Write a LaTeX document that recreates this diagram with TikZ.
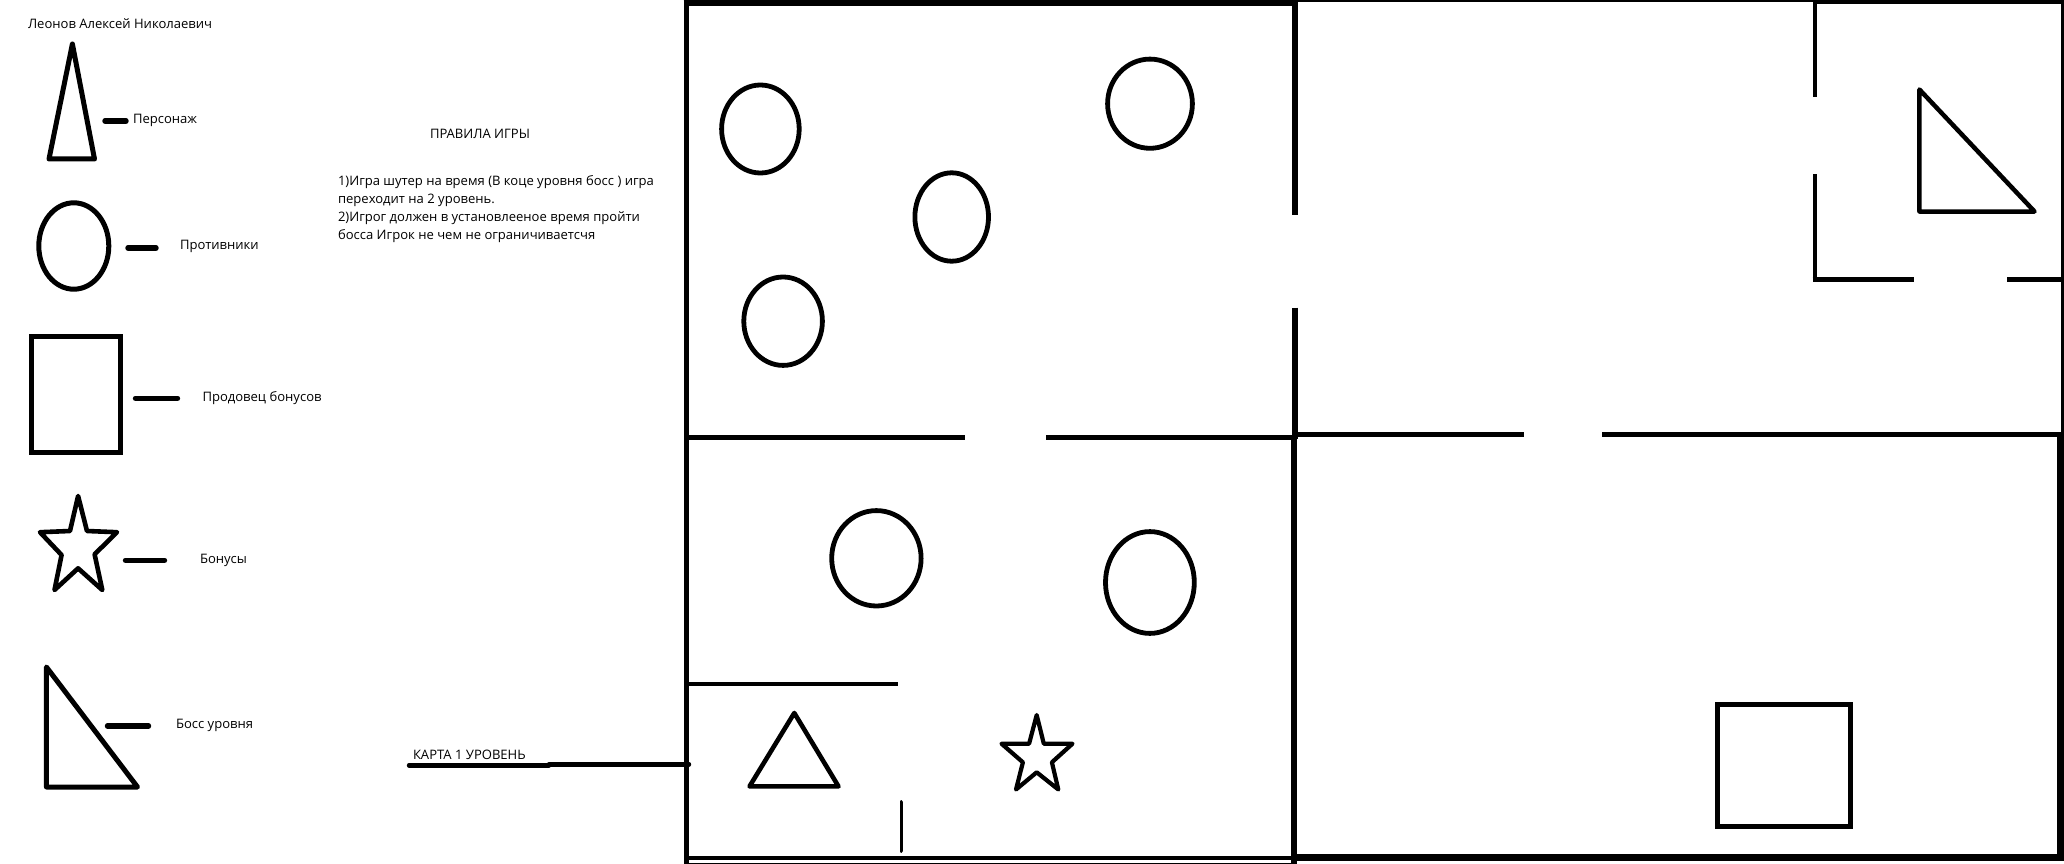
\documentclass[tikz,border=0pt]{standalone}
\usepackage{fontspec}
\setmainfont{Open Sans}
\tikzset{
  every path/.style={line join=miter},
  wall/.style={draw=black,line width=#1,line cap=butt},
  wall/.default=4pt,
  shapeline/.style={draw=black,line width=#1,line join=round,line cap=round},
  shapeline/.default=5pt,
  dashmark/.style={draw=black,line width=5.4pt,line cap=round},
  lbl/.style={anchor=west,inner sep=0pt,outer sep=0pt,text=black,font=\fontsize{13.05}{18}\selectfont,text height=0.75em,text depth=0.25em},
  rules/.style={anchor=north west,inner sep=0pt,outer sep=0pt,align=left,text=black,font=\fontsize{13.05}{18}\selectfont}
}
\begin{document}
\begin{tikzpicture}[x=1pt,y=-1pt]
\useasboundingbox (0,0) rectangle (2064,864);
\fill[white] (0,0) rectangle (2064,864);

% legend texts
\node[lbl] (author) at (28,26) {Леонов Алексей Николаевич};
\node[lbl] (lhero) at (133,121) {Персонаж};
\node[lbl] (lenemy) at (180,247) {Противники};
\node[lbl] (lseller) at (202.5,398.5) {Продовец бонусов};
\node[lbl] (lbonus) at (200,561) {Бонусы};
\node[lbl] (lboss) at (176,726) {Босс уровня};
\node[lbl] (rulestitle) at (430,136.5) {ПРАВИЛА ИГРЫ};
\node[rules] (rulestext) at (338,176) {1)Игра шутер на время (В коце уровня босс ) игра\\переходит на 2 уровень.\\2)Игрог должен в установлееное время пройти\\босса Игрок не чем не ограничиваетсчя};
\node[lbl] (maplabel) at (413,757) {КАРТА 1 УРОВЕНЬ};

% legend shapes
\draw[shapeline] (72.4,44) -- (49,159) -- (94.5,159) -- cycle;
\draw[dashmark] (105,121) -- (126,121);
\draw[shapeline] (73.8,246) ellipse [x radius=35,y radius=43.2];
\draw[dashmark] (128,248) -- (156,248);
\draw[wall=5pt] (31.8,336.7) rectangle (120.4,452.3);
\draw[dashmark] (135.5,398.3) -- (177.5,398.3);
\draw[shapeline=4.6pt] (78.1,496) -- (87,531) -- (117,532.2) -- (94.6,554.3) -- (102.3,590) -- (78.1,568.3) -- (54.5,590) -- (61.6,555) -- (40,532.2) -- (70,531) -- cycle;
\draw[dashmark] (125.5,560.3) -- (164.5,560.3);
\draw[shapeline] (46.4,667) -- (46.4,787) -- (137.5,787) -- cycle;
\draw[dashmark] (107.5,726) -- (148.5,726);

% map label pointer
\coordinate (ptrA) at (409,765.3);
\coordinate (ptrB) at (549,765.3);
\coordinate (ptrC) at (549,764.3);
\coordinate (ptrD) at (689,764.3);
\draw[dashmark,line width=4.4pt] (ptrA) -- (ptrB);
\draw[dashmark,line width=4.4pt] (ptrC) -- (ptrD);

% outer walls, room 1
\draw[wall=6pt] (683.5,3) -- (1297,3);
\draw[wall=5.6pt] (686.3,0) -- (686.3,864);
\draw[wall=6pt] (1294.5,0) -- (1294.5,215);
\draw[wall=6pt] (1294.5,307.7) -- (1294.5,439);
\draw[wall=4.6pt] (686,437.7) -- (964.8,437.7);
\draw[wall=4.6pt] (1046,437.7) -- (1297,437.7);

% room 2 (top right)
\draw[wall=2.4pt] (1297,1.2) -- (1815,1.2);
\draw[wall=4pt] (1812.7,2) -- (2062,2);
\draw[wall=3.4pt] (2062.3,0) -- (2062.3,436);
\draw[wall=5pt] (1297,434.3) -- (1523.6,434.3);
\draw[wall=5pt] (1602,434.3) -- (2060,434.3);
\draw[wall=4.8pt] (1814.9,0) -- (1814.9,96.7);
\draw[wall=4.8pt] (1814.9,174) -- (1814.9,281.6);
\draw[wall=4.8pt] (1812.5,279.3) -- (1913.6,279.3);
\draw[wall=4.8pt] (2007.4,279.3) -- (2062,279.3);

% room 3 (bottom left)
\draw[wall=6pt] (1293.5,436) -- (1293.5,864);
\draw[wall=4.6pt] (684,858) -- (1291,858);
\draw[wall=1pt] (684,863.5) -- (1291,863.5);
\draw[wall=4.4pt] (686,684) -- (898,684);
\draw[shapeline=3.8pt] (901.4,802) -- (901.4,851);

% room 4 (bottom right)
\draw[wall=6.7pt] (1291,857.3) -- (2064,857.3);
\draw[wall=7pt] (2060.5,432) -- (2060.5,861);
\draw[wall=5.6pt] (1717.5,704.5) rectangle (1850.3,826.5);

% map figures
\draw[shapeline=4.8pt] (760.4,129) ellipse [x radius=38.8,y radius=44];
\draw[shapeline=4.8pt] (1150,103.7) ellipse [x radius=42.4,y radius=44.6];
\draw[shapeline=4.8pt] (951.7,217) ellipse [x radius=36.8,y radius=44.2];
\draw[shapeline=4.8pt] (783.1,321.2) ellipse [x radius=39.3,y radius=44.2];
\draw[shapeline=4.8pt] (876.4,558.3) ellipse [x radius=44.7,y radius=47.7];
\draw[shapeline=4.8pt] (1149.9,582.5) ellipse [x radius=44.4,y radius=50.9];
\draw[shapeline=4.6pt] (794.3,713) -- (749.5,786.4) -- (838.5,786.4) -- cycle;
\draw[shapeline=4.2pt] (1036.7,715) -- (1043.8,743.7) -- (1072.5,743.7) -- (1051.9,762.3) -- (1058.3,789.5) -- (1036.7,772.3) -- (1016,789.5) -- (1022.9,762.3) -- (1001.5,743.7) -- (1029.1,743.7) -- cycle;
\draw[shapeline=4.5pt] (1919.4,89.5) -- (1919.4,211.5) -- (2034.5,211.5) -- cycle;
\end{tikzpicture}
\end{document}
